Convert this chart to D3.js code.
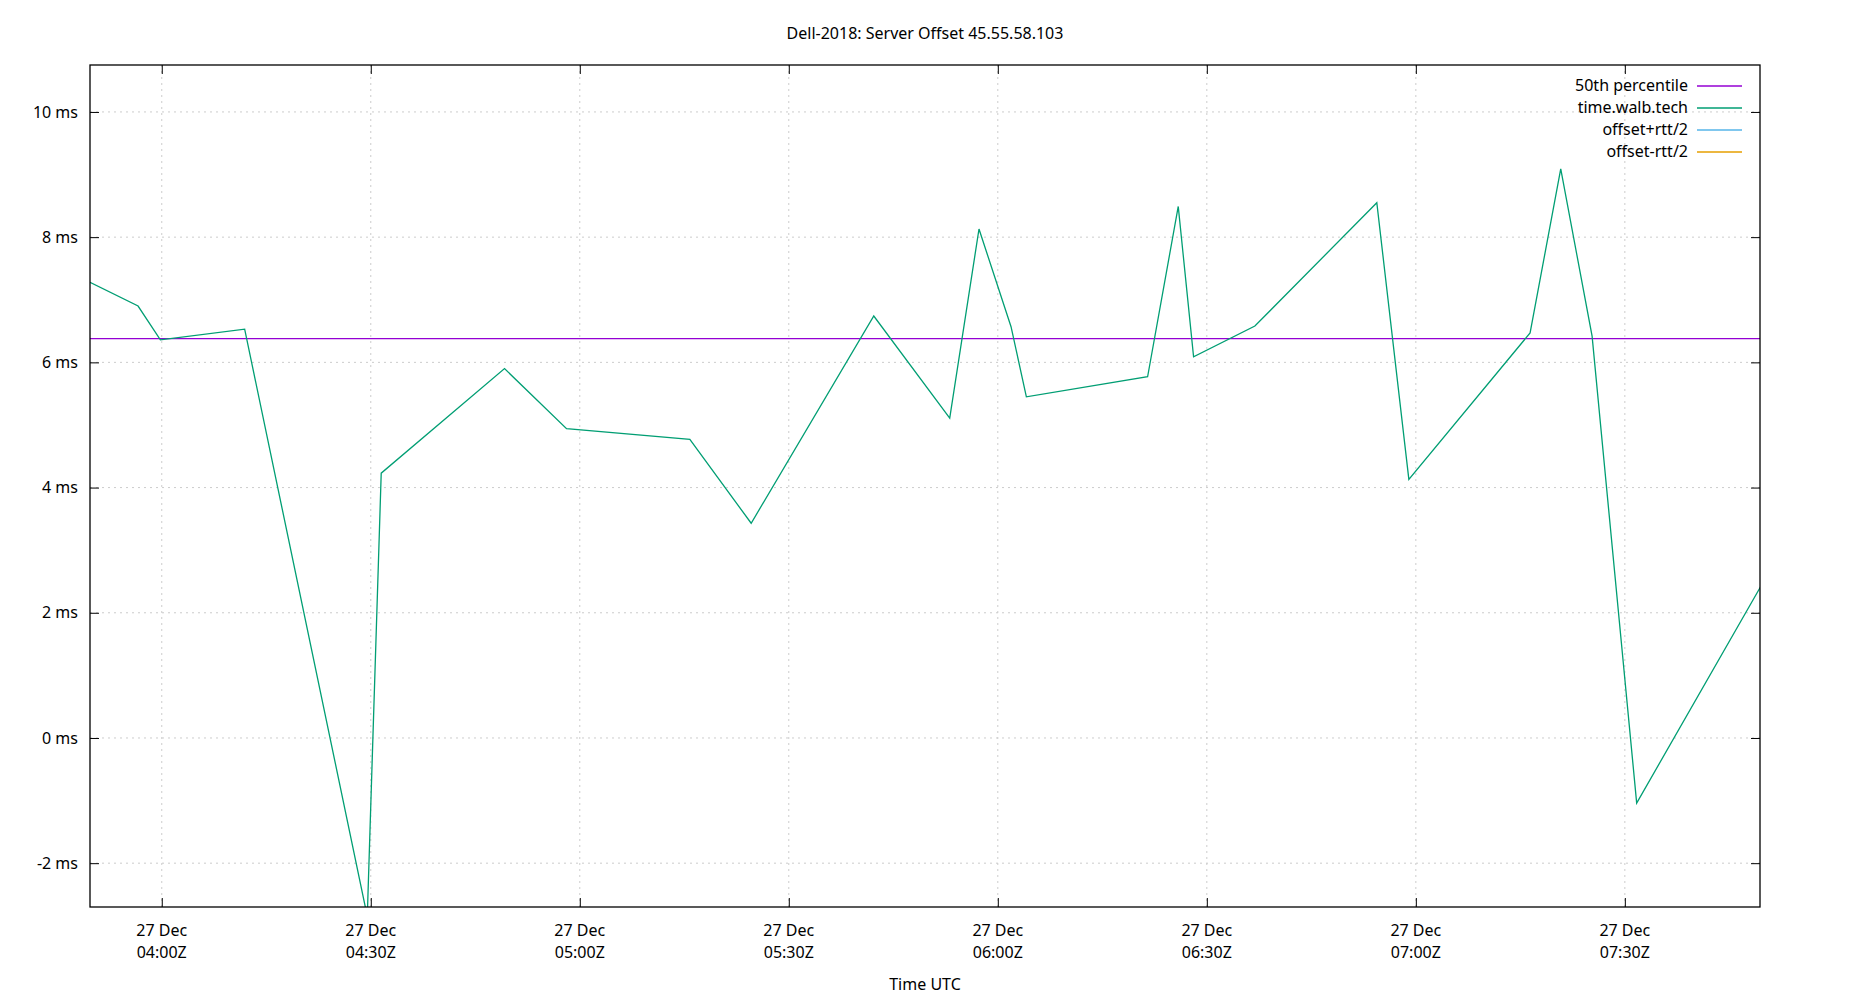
<!DOCTYPE html>
<html><head><meta charset="utf-8">
<script src="https://cdn.jsdelivr.net/npm/d3@7"></script>
<style>body{margin:0;background:#fff}text{font-family:"Noto Sans","Open Sans",sans-serif;fill:#000}</style>
</head><body><svg id="c" width="1850" height="1000"></svg>
<script>
// minutes after 27 Dec 04:00Z
const minutes = [-10.3,-3.4,-0.2,11.9,29.5,31.5,49.2,58.1,75.8,84.6,102.2,113.1,117.3,121.9,124.1,141.5,145.9,148.1,156.9,174.4,179.0,196.4,200.8,205.3,211.7,229.5];
const offsets = [7.28,6.9,6.36,6.53,-2.85,4.23,5.9,4.94,4.77,3.43,6.74,5.11,8.13,6.57,5.45,5.77,8.49,6.09,6.58,8.55,4.13,6.47,9.09,6.42,-1.04,2.42];
const median = 6.38;
const yTicks = [-2,0,2,4,6,8,10];
const legendLabels = ["50th percentile","time.walb.tech","offset+rtt/2","offset-rtt/2"];
const legendColors = ["#9400d3","#009e73","#56b4e9","#e69f00"];

const base = Date.UTC(2018,11,27,4,0);
const T = m => new Date(base + m*60000);
const L=90,R=1760,Tp=65,B=907;
const svg=d3.select("#c");
const x=d3.scaleUtc().domain([T(-10.3),T(229.4)]).range([L,R]);
const y=d3.scaleLinear().domain([-2.7,10.75]).range([B,Tp]);
const xt=[0,30,60,90,120,150,180,210].map(T);
const g=svg.append("g").attr("stroke","#ccc").attr("stroke-dasharray","2,4").attr("stroke-width",1);
xt.forEach(t=>g.append("line").attr("x1",x(t)).attr("x2",x(t)).attr("y1",Tp).attr("y2",B));
yTicks.forEach(v=>g.append("line").attr("x1",L).attr("x2",R).attr("y1",y(v)).attr("y2",y(v)));
const fmt=d=>"27 Dec|"+d3.utcFormat("%H:%M")(d)+"Z";
svg.append("g").attr("transform",`translate(0,${B})`).call(d3.axisBottom(x).tickValues(xt).tickSize(-9).tickFormat(""));
xt.forEach(t=>{const tx=svg.append("text").attr("x",x(t)).attr("y",B+29).attr("text-anchor","middle").attr("font-size",16);
 const p=fmt(t).split("|");tx.append("tspan").attr("x",x(t)).text(p[0]);tx.append("tspan").attr("x",x(t)).attr("dy",22).text(p[1]);});
svg.append("g").attr("transform",`translate(0,${Tp})`).call(d3.axisTop(x).tickValues(xt).tickSize(-9).tickFormat(""));
svg.append("g").attr("transform",`translate(${L},0)`).call(d3.axisLeft(y).tickValues(yTicks).tickSize(-9).tickPadding(12).tickFormat(d=>d+" ms")).selectAll("text").attr("font-size",16);
svg.append("g").attr("transform",`translate(${R},0)`).call(d3.axisRight(y).tickValues(yTicks).tickSize(-9).tickFormat(""));
svg.selectAll(".domain").remove();
svg.selectAll(".tick line").attr("stroke","#000");
svg.append("clipPath").attr("id","cp").append("rect").attr("x",L).attr("y",Tp).attr("width",R-L).attr("height",B-Tp);
svg.append("line").attr("x1",L).attr("x2",R).attr("y1",y(median)).attr("y2",y(median)).attr("stroke",legendColors[0]).attr("stroke-width",1.3);
svg.append("path").attr("clip-path","url(#cp)").datum(minutes.map((m,i)=>[T(m),offsets[i]]))
 .attr("d",d3.line().x(d=>x(d[0])).y(d=>y(d[1]))).attr("fill","none").attr("stroke",legendColors[1]).attr("stroke-width",1.3);
svg.append("rect").attr("x",L).attr("y",Tp).attr("width",R-L).attr("height",B-Tp).attr("fill","none").attr("stroke","#000").attr("stroke-width",1.3);
legendLabels.forEach((l,i)=>{const yy=86+i*22;
 svg.append("text").attr("x",1688).attr("y",yy+5).attr("text-anchor","end").attr("font-size",16).text(l);
 svg.append("line").attr("x1",1697).attr("x2",1742).attr("y1",yy).attr("y2",yy).attr("stroke",legendColors[i]).attr("stroke-width",1.3);});
svg.append("text").attr("x",925).attr("y",39).attr("text-anchor","middle").attr("font-size",16).text("Dell-2018: Server Offset 45.55.58.103");
svg.append("text").attr("x",925).attr("y",990).attr("text-anchor","middle").attr("font-size",16).text("Time UTC");
</script></body></html>
